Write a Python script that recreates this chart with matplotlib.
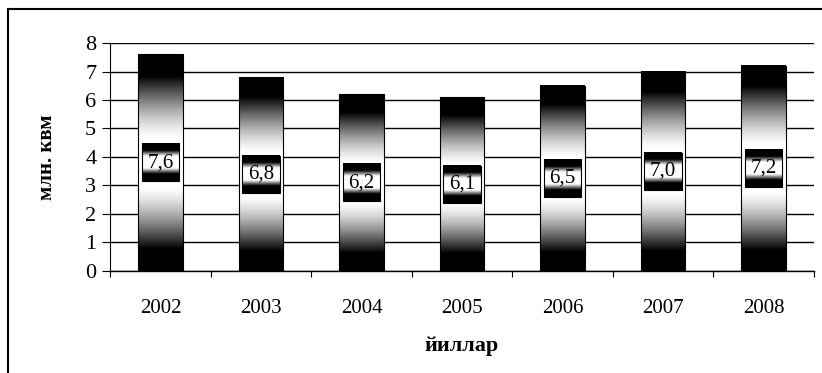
import numpy as np
import matplotlib
matplotlib.use("Agg")
import matplotlib.pyplot as plt
from matplotlib.lines import Line2D
from matplotlib.patches import Rectangle

# chart data
years = ["2002", "2003", "2004", "2005", "2006", "2007", "2008"]
values = [7.6, 6.8, 6.2, 6.1, 6.5, 7.0, 7.2]
value_labels = [f"{v:.1f}".replace(".", ",") for v in values]
y_ticks = [0, 1, 2, 3, 4, 5, 6, 7, 8]

plt.rcParams["font.family"] = ["Liberation Serif", "DejaVu Serif"]

BAR_W = 0.44
BOX_W = 0.37
BOX_H = 1.3


def band_gradient(lo, hi, gamma=1.0, n=200):
    # dark at both ends, white in the middle
    t = np.linspace(0, 1, n)
    d = np.abs(t - 0.5) * 2
    dark = np.clip((d - lo) / (hi - lo), 0, 1) ** gamma
    return (1 - dark).reshape(-1, 1)


fig = plt.figure(figsize=(8.22, 3.73), dpi=100)
ax = fig.add_axes([0.134, 0.2735, 0.856, 0.6112])

x = np.arange(len(years))
bars = ax.bar(x, values, width=BAR_W, facecolor="none", edgecolor="black",
              linewidth=0.8, zorder=3)

bar_grad = band_gradient(0.22, 0.8, gamma=1.4)
box_grad = band_gradient(0.32, 0.62)
for xi, v, lab in zip(x, values, value_labels):
    ax.imshow(bar_grad, cmap="gray", vmin=0, vmax=1, aspect="auto",
              interpolation="bilinear", origin="lower",
              extent=[xi - BAR_W / 2, xi + BAR_W / 2, 0, v], zorder=2)
    yc = v / 2
    ax.imshow(box_grad, cmap="gray", vmin=0, vmax=1, aspect="auto",
              interpolation="bilinear", origin="lower",
              extent=[xi - BOX_W / 2, xi + BOX_W / 2, yc - BOX_H / 2, yc + BOX_H / 2],
              zorder=4)
    ax.add_patch(Rectangle((xi - BOX_W / 2, yc - BOX_H / 2), BOX_W, BOX_H,
                           facecolor="none", edgecolor="black", linewidth=0.8, zorder=5))
    ax.text(xi, yc, lab, ha="center", va="center", fontsize=15, zorder=6)

ax.set_xlim(-0.5, len(years) - 0.5)
ax.set_ylim(0, 8)
ax.set_yticks(y_ticks)
ax.set_yticklabels([str(t) for t in y_ticks], fontsize=16)
ax.set_xticks(x)
ax.set_xticklabels(years, fontsize=15)
ax.set_xticks(np.arange(len(years) + 1) - 0.5, minor=True)
ax.tick_params(axis="x", which="major", length=0, pad=20)
ax.tick_params(axis="x", which="minor", length=4, width=0.8, direction="out")
ax.tick_params(axis="y", length=6, width=0.8, pad=4)

ax.set_axisbelow(True)
ax.yaxis.grid(True, color="black", linewidth=1.0)
for s in ["top", "right"]:
    ax.spines[s].set_visible(False)
ax.spines["left"].set_linewidth(0.8)
ax.spines["bottom"].set_linewidth(1.0)

ax.set_xlabel("йиллар", fontsize=16, fontweight="bold", labelpad=13)
ax.set_ylabel("млн. квм", fontsize=15, fontweight="bold", labelpad=20)

# outer frame (left and top edges visible in the scan)
fig.add_artist(Line2D([8 / 822, 8 / 822], [0, 1 - 9 / 373], color="black", linewidth=1.5))
fig.add_artist(Line2D([8 / 822, 1], [1 - 9 / 373, 1 - 9 / 373], color="black", linewidth=1.5))

fig.savefig("out.png", dpi=100)
